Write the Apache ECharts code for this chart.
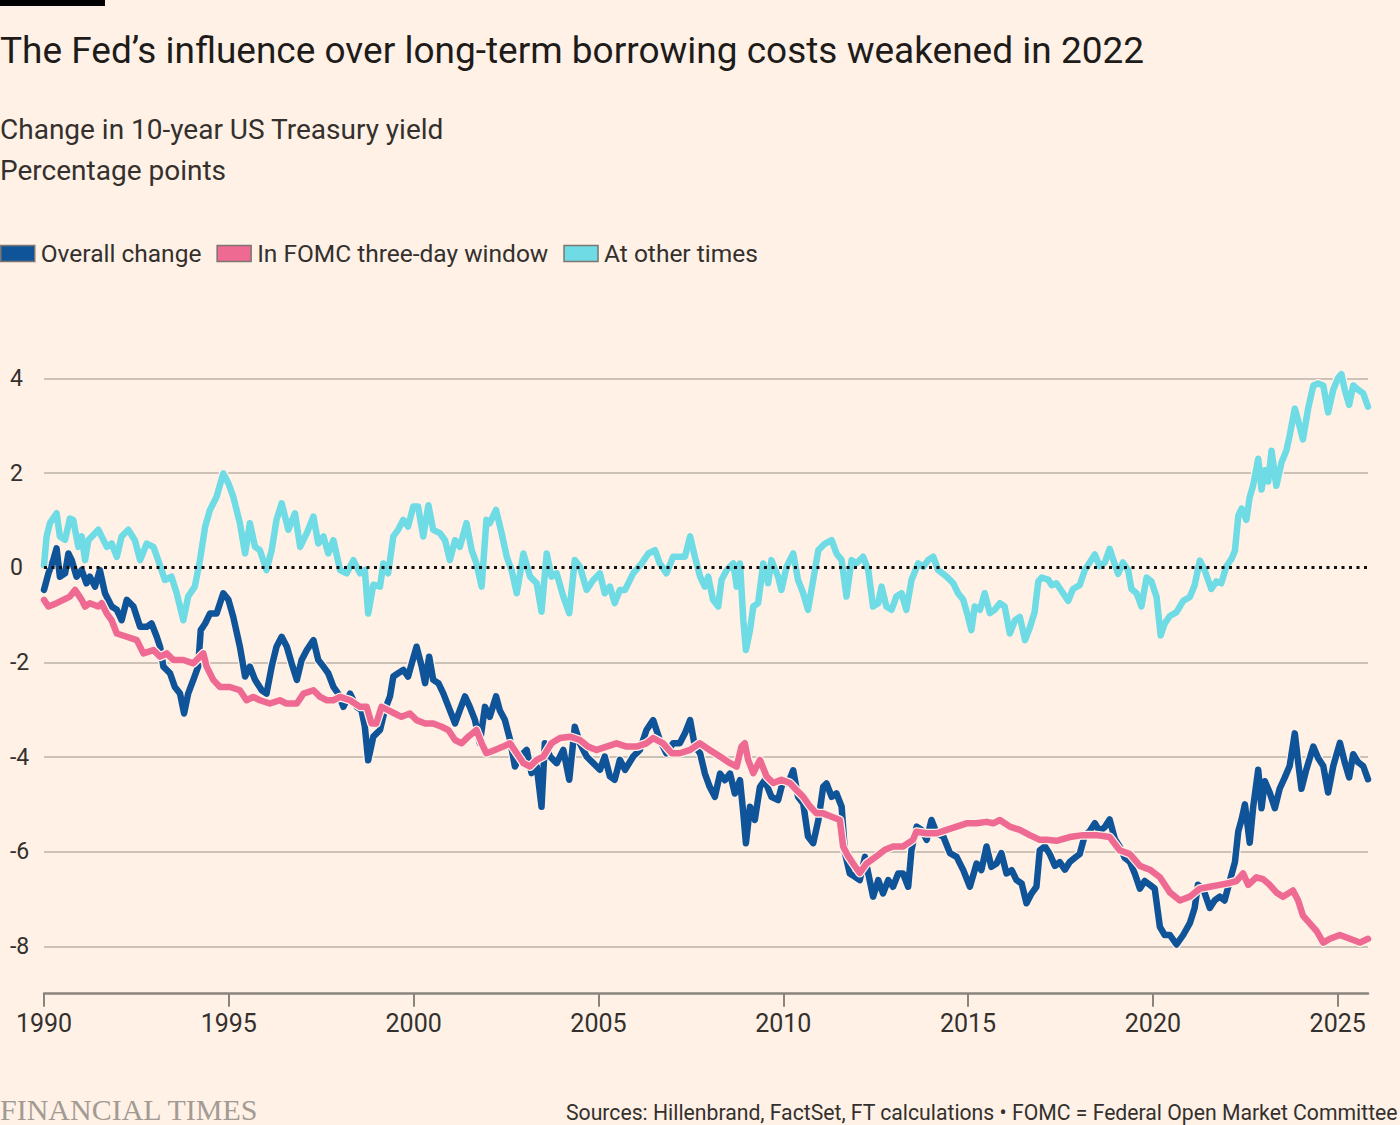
<!DOCTYPE html>
<html>
<head>
<meta charset="utf-8">
<script src="https://cdn.jsdelivr.net/npm/echarts@6/dist/echarts.min.js"></script>
<style>
  html, body { margin: 0; padding: 0; background: #fff1e5; }
  #chart { width: 1400px; height: 1125px; }
</style>
</head>
<body>
<div id="chart"></div>
<script>
// values: [year, percentage points]
var overallChange = [
  [1990.00,-0.47],[1990.12,-0.12],[1990.25,0.16],[1990.34,0.41],[1990.43,-0.19],[1990.57,-0.12],[1990.66,0.30],[1990.75,0.16],
  [1990.88,-0.19],[1991.02,-0.05],[1991.15,-0.33],[1991.24,-0.19],[1991.38,-0.40],[1991.51,-0.05],[1991.65,-0.54],[1991.83,-0.82],
  [1991.97,-0.89],[1992.10,-1.11],[1992.24,-0.68],[1992.42,-0.82],[1992.60,-1.25],[1992.78,-1.25],[1992.91,-1.18],[1993.05,-1.46],
  [1993.14,-1.67],[1993.23,-2.09],[1993.41,-2.23],[1993.54,-2.52],[1993.68,-2.66],[1993.79,-3.08],[1993.90,-2.66],[1994.04,-2.37],
  [1994.17,-2.09],[1994.24,-1.32],[1994.36,-1.18],[1994.49,-0.97],[1994.67,-0.97],[1994.85,-0.54],[1994.99,-0.68],[1995.12,-1.04],
  [1995.30,-1.67],[1995.44,-2.30],[1995.57,-2.09],[1995.71,-2.37],[1995.89,-2.59],[1996.02,-2.66],[1996.16,-2.09],[1996.29,-1.67],
  [1996.43,-1.46],[1996.57,-1.67],[1996.70,-2.02],[1996.84,-2.37],[1996.97,-1.95],[1997.11,-1.74],[1997.29,-1.53],[1997.42,-1.95],
  [1997.56,-2.09],[1997.69,-2.23],[1997.83,-2.52],[1997.96,-2.66],[1998.10,-2.94],[1998.28,-2.66],[1998.46,-2.94],[1998.59,-3.01],
  [1998.68,-3.36],[1998.77,-4.07],[1998.91,-3.57],[1999.09,-3.43],[1999.22,-3.01],[1999.36,-2.72],[1999.45,-2.30],[1999.58,-2.23],
  [1999.72,-2.16],[1999.85,-2.30],[1999.95,-2.02],[2000.08,-1.67],[2000.22,-2.09],[2000.31,-2.44],[2000.42,-1.88],[2000.53,-2.37],
  [2000.67,-2.44],[2000.80,-2.65],[2000.98,-3.01],[2001.12,-3.29],[2001.25,-3.01],[2001.39,-2.72],[2001.52,-2.94],[2001.66,-3.22],
  [2001.79,-3.71],[2001.93,-2.94],[2002.06,-3.15],[2002.23,-2.72],[2002.33,-3.01],[2002.47,-3.22],[2002.61,-3.64],[2002.74,-4.20],
  [2002.88,-3.99],[2003.06,-3.85],[2003.19,-4.34],[2003.33,-4.20],[2003.46,-5.05],[2003.55,-3.71],[2003.69,-3.99],[2003.87,-4.13],
  [2004.05,-3.85],[2004.21,-4.48],[2004.36,-3.36],[2004.50,-3.71],[2004.68,-3.99],[2004.86,-4.13],[2005.04,-4.27],[2005.17,-3.99],
  [2005.31,-4.41],[2005.44,-4.48],[2005.58,-4.06],[2005.72,-4.27],[2005.94,-3.99],[2006.12,-3.85],[2006.30,-3.43],[2006.48,-3.22],
  [2006.66,-3.64],[2006.84,-3.92],[2007.02,-3.71],[2007.20,-3.71],[2007.34,-3.50],[2007.48,-3.22],[2007.61,-3.78],[2007.75,-3.92],
  [2007.88,-4.35],[2008.01,-4.63],[2008.15,-4.84],[2008.29,-4.35],[2008.42,-4.49],[2008.56,-4.35],[2008.69,-4.77],[2008.83,-4.49],
  [2008.92,-5.19],[2008.99,-5.82],[2009.10,-5.05],[2009.23,-5.33],[2009.37,-4.63],[2009.50,-4.49],[2009.68,-4.84],[2009.86,-4.91],
  [2010.00,-4.49],[2010.13,-4.56],[2010.27,-4.28],[2010.40,-4.84],[2010.54,-4.98],[2010.67,-5.68],[2010.81,-5.82],[2010.95,-5.33],
  [2011.08,-4.63],[2011.17,-4.56],[2011.31,-4.84],[2011.44,-4.77],[2011.58,-5.05],[2011.67,-6.03],[2011.80,-6.46],[2011.94,-6.53],
  [2012.07,-6.60],[2012.21,-6.11],[2012.30,-6.46],[2012.43,-6.95],[2012.57,-6.60],[2012.70,-6.88],[2012.84,-6.60],[2012.97,-6.74],
  [2013.11,-6.46],[2013.24,-6.46],[2013.38,-6.74],[2013.47,-5.96],[2013.61,-5.47],[2013.74,-5.54],[2013.88,-5.75],[2014.01,-5.33],
  [2014.15,-5.61],[2014.33,-5.68],[2014.51,-6.03],[2014.69,-6.11],[2014.87,-6.39],[2015.05,-6.74],[2015.23,-6.25],[2015.36,-6.39],
  [2015.50,-5.89],[2015.63,-6.32],[2015.77,-6.25],[2015.90,-6.03],[2016.04,-6.46],[2016.18,-6.39],[2016.31,-6.60],[2016.45,-6.67],
  [2016.58,-7.09],[2016.72,-6.88],[2016.85,-6.74],[2016.94,-5.97],[2017.08,-5.89],[2017.21,-6.05],[2017.35,-6.30],[2017.48,-6.22],
  [2017.62,-6.38],[2017.75,-6.22],[2017.89,-6.13],[2018.02,-6.05],[2018.16,-5.65],[2018.29,-5.57],[2018.43,-5.40],[2018.56,-5.57],
  [2018.70,-5.48],[2018.83,-5.32],[2018.97,-5.73],[2019.10,-5.89],[2019.24,-6.13],[2019.38,-6.22],[2019.51,-6.46],[2019.65,-6.78],
  [2019.78,-6.62],[2019.92,-6.70],[2020.05,-6.78],[2020.19,-7.59],[2020.32,-7.76],[2020.46,-7.76],[2020.64,-7.96],[2020.82,-7.76],
  [2021.00,-7.51],[2021.13,-7.19],[2021.22,-6.70],[2021.36,-6.78],[2021.54,-7.19],[2021.67,-7.03],[2021.81,-6.95],[2021.94,-7.03],
  [2022.08,-6.62],[2022.22,-6.22],[2022.31,-5.57],[2022.40,-5.32],[2022.49,-5.00],[2022.62,-5.81],[2022.71,-5.08],[2022.85,-4.27],
  [2022.94,-5.08],[2023.03,-4.51],[2023.16,-4.75],[2023.30,-5.08],[2023.43,-4.67],[2023.57,-4.43],[2023.70,-4.19],[2023.84,-3.50],
  [2023.93,-4.11],[2024.02,-4.67],[2024.15,-4.27],[2024.34,-3.78],[2024.47,-4.02],[2024.61,-4.19],[2024.74,-4.75],[2024.88,-4.19],
  [2025.06,-3.70],[2025.19,-4.11],[2025.31,-4.43],[2025.42,-3.94],[2025.55,-4.11],[2025.69,-4.19],[2025.82,-4.47]
];

var fomcWindow = [
  [1990.00,-0.68],[1990.12,-0.82],[1990.34,-0.75],[1990.52,-0.68],[1990.70,-0.61],[1990.84,-0.47],[1991.02,-0.68],[1991.11,-0.82],
  [1991.24,-0.75],[1991.47,-0.82],[1991.56,-0.75],[1991.70,-0.97],[1991.83,-1.11],[1991.97,-1.39],[1992.24,-1.46],[1992.51,-1.53],
  [1992.69,-1.81],[1992.96,-1.74],[1993.14,-1.88],[1993.32,-1.81],[1993.50,-1.95],[1993.77,-1.95],[1994.04,-2.02],[1994.22,-1.88],
  [1994.31,-1.81],[1994.40,-2.09],[1994.58,-2.37],[1994.76,-2.52],[1995.03,-2.52],[1995.30,-2.59],[1995.48,-2.80],[1995.66,-2.73],
  [1995.84,-2.80],[1996.11,-2.87],[1996.38,-2.80],[1996.56,-2.87],[1996.84,-2.87],[1997.02,-2.66],[1997.29,-2.59],[1997.47,-2.73],
  [1997.65,-2.80],[1997.83,-2.80],[1998.01,-2.73],[1998.28,-2.80],[1998.55,-2.94],[1998.73,-2.94],[1998.86,-3.29],[1998.99,-3.29],
  [1999.13,-2.94],[1999.31,-3.01],[1999.49,-3.08],[1999.67,-3.15],[1999.90,-3.08],[2000.08,-3.22],[2000.31,-3.29],[2000.53,-3.29],
  [2000.76,-3.36],[2000.94,-3.43],[2001.12,-3.64],[2001.30,-3.71],[2001.48,-3.57],[2001.70,-3.43],[2001.84,-3.71],[2001.97,-3.92],
  [2002.20,-3.85],[2002.42,-3.78],[2002.61,-3.71],[2002.79,-3.92],[2002.97,-4.13],[2003.15,-4.20],[2003.33,-4.06],[2003.51,-3.99],
  [2003.73,-3.71],[2003.96,-3.60],[2004.23,-3.57],[2004.50,-3.64],[2004.72,-3.78],[2004.95,-3.85],[2005.22,-3.78],[2005.49,-3.71],
  [2005.76,-3.78],[2006.03,-3.78],[2006.30,-3.71],[2006.48,-3.60],[2006.75,-3.71],[2006.98,-3.92],[2007.20,-3.92],[2007.48,-3.85],
  [2007.74,-3.71],[2008.01,-3.85],[2008.29,-3.99],[2008.56,-4.13],[2008.74,-4.20],[2008.87,-3.78],[2008.96,-3.71],[2009.05,-4.06],
  [2009.19,-4.34],[2009.37,-4.06],[2009.55,-4.41],[2009.73,-4.55],[2009.95,-4.48],[2010.18,-4.55],[2010.36,-4.70],[2010.54,-4.84],
  [2010.72,-5.04],[2010.90,-5.19],[2011.08,-5.19],[2011.31,-5.26],[2011.53,-5.33],[2011.62,-5.89],[2011.76,-6.10],[2011.89,-6.25],
  [2012.07,-6.45],[2012.25,-6.25],[2012.52,-6.10],[2012.75,-5.96],[2012.97,-5.89],[2013.24,-5.89],[2013.51,-5.75],[2013.60,-5.58],
  [2013.88,-5.61],[2014.15,-5.61],[2014.42,-5.54],[2014.69,-5.47],[2014.96,-5.40],[2015.23,-5.40],[2015.50,-5.37],[2015.68,-5.40],
  [2015.86,-5.33],[2016.13,-5.47],[2016.40,-5.54],[2016.67,-5.65],[2016.94,-5.75],[2017.17,-5.75],[2017.39,-5.77],[2017.75,-5.69],
  [2018.11,-5.65],[2018.47,-5.65],[2018.83,-5.69],[2019.10,-5.97],[2019.38,-6.05],[2019.65,-6.30],[2019.92,-6.38],[2020.19,-6.54],
  [2020.46,-6.86],[2020.73,-7.03],[2021.00,-6.95],[2021.27,-6.78],[2021.54,-6.74],[2021.81,-6.70],[2022.08,-6.66],[2022.26,-6.62],
  [2022.44,-6.46],[2022.58,-6.70],[2022.80,-6.54],[2022.98,-6.58],[2023.16,-6.70],[2023.34,-6.86],[2023.52,-6.95],[2023.79,-6.82],
  [2023.93,-7.03],[2024.06,-7.35],[2024.24,-7.51],[2024.43,-7.68],[2024.61,-7.92],[2024.79,-7.84],[2025.06,-7.76],[2025.33,-7.84],
  [2025.60,-7.92],[2025.82,-7.84]
];

var otherTimes = [
  [1990.00,0.05],[1990.07,0.66],[1990.16,0.94],[1990.34,1.15],[1990.43,0.66],[1990.57,0.59],[1990.70,1.04],[1990.79,1.01],
  [1990.93,0.44],[1991.02,0.66],[1991.11,0.16],[1991.20,0.58],[1991.47,0.80],[1991.70,0.44],[1991.83,0.51],[1991.97,0.23],
  [1992.10,0.66],[1992.28,0.80],[1992.46,0.58],[1992.60,0.16],[1992.78,0.51],[1992.96,0.44],[1993.09,0.16],[1993.27,-0.26],
  [1993.45,-0.19],[1993.59,-0.54],[1993.77,-1.11],[1993.90,-0.61],[1994.08,-0.40],[1994.22,0.16],[1994.36,0.87],[1994.49,1.22],
  [1994.67,1.50],[1994.85,1.99],[1994.99,1.78],[1995.12,1.50],[1995.30,0.94],[1995.44,0.30],[1995.57,0.94],[1995.71,0.44],
  [1995.84,0.37],[1996.02,-0.05],[1996.16,0.37],[1996.29,1.01],[1996.43,1.36],[1996.61,0.80],[1996.79,1.15],[1996.93,0.44],
  [1997.11,0.73],[1997.29,1.08],[1997.42,0.51],[1997.56,0.66],[1997.69,0.30],[1997.83,0.58],[1998.01,-0.05],[1998.19,-0.12],
  [1998.37,0.16],[1998.55,-0.12],[1998.68,-0.05],[1998.77,-0.97],[1998.91,-0.36],[1999.09,-0.40],[1999.18,0.09],[1999.31,-0.12],
  [1999.45,0.66],[1999.58,0.80],[1999.72,1.01],[1999.85,0.87],[1999.99,1.29],[2000.12,1.29],[2000.26,0.66],[2000.40,1.32],
  [2000.53,0.80],[2000.71,0.73],[2000.85,0.58],[2000.98,0.16],[2001.12,0.58],[2001.25,0.44],[2001.43,0.94],[2001.57,0.37],
  [2001.70,0.09],[2001.84,-0.40],[2001.97,1.01],[2002.06,0.94],[2002.23,1.22],[2002.38,0.73],[2002.52,0.23],[2002.65,-0.05],
  [2002.79,-0.54],[2002.97,0.30],[2003.15,-0.19],[2003.33,-0.33],[2003.46,-0.93],[2003.60,0.30],[2003.73,-0.19],[2003.87,-0.12],
  [2004.05,-0.61],[2004.21,-0.96],[2004.36,0.16],[2004.50,0.02],[2004.68,-0.47],[2004.86,-0.26],[2005.04,-0.12],[2005.17,-0.54],
  [2005.31,-0.40],[2005.44,-0.75],[2005.58,-0.47],[2005.72,-0.47],[2005.94,-0.12],[2006.17,0.09],[2006.35,0.30],[2006.53,0.37],
  [2006.66,0.09],[2006.84,-0.12],[2007.02,0.23],[2007.20,0.23],[2007.34,0.23],[2007.48,0.66],[2007.61,0.23],[2007.75,-0.19],
  [2007.88,-0.40],[2007.97,-0.19],[2008.10,-0.68],[2008.24,-0.82],[2008.33,-0.26],[2008.47,-0.05],[2008.65,0.09],[2008.74,-0.40],
  [2008.83,0.09],[2008.92,-1.11],[2008.99,-1.74],[2009.10,-1.32],[2009.19,-0.82],[2009.32,-0.75],[2009.46,0.09],[2009.59,-0.33],
  [2009.68,0.16],[2009.86,-0.19],[2009.95,-0.47],[2010.09,0.02],[2010.27,0.30],[2010.40,-0.26],[2010.54,-0.54],[2010.67,-0.89],
  [2010.81,-0.26],[2010.95,0.37],[2011.13,0.51],[2011.31,0.58],[2011.44,0.30],[2011.58,0.16],[2011.71,-0.61],[2011.85,0.16],
  [2011.98,0.09],[2012.16,0.23],[2012.30,-0.05],[2012.43,-0.82],[2012.57,-0.75],[2012.66,-0.40],[2012.79,-0.82],[2012.93,-0.89],
  [2013.06,-0.61],[2013.20,-0.54],[2013.33,-0.89],[2013.47,-0.26],[2013.65,0.09],[2013.79,0.02],[2013.92,0.16],[2014.06,0.23],
  [2014.19,-0.05],[2014.42,-0.19],[2014.60,-0.33],[2014.73,-0.54],[2014.87,-0.68],[2015.00,-1.04],[2015.09,-1.32],[2015.18,-0.82],
  [2015.32,-0.89],[2015.45,-0.54],[2015.59,-0.96],[2015.72,-0.89],[2015.86,-0.75],[2015.99,-0.82],[2016.13,-1.39],[2016.27,-1.11],
  [2016.40,-1.04],[2016.54,-1.53],[2016.67,-1.27],[2016.80,-0.94],[2016.90,-0.29],[2016.99,-0.21],[2017.17,-0.25],[2017.26,-0.37],
  [2017.39,-0.33],[2017.57,-0.54],[2017.71,-0.70],[2017.84,-0.45],[2018.02,-0.37],[2018.16,-0.05],[2018.29,0.11],[2018.43,0.28],
  [2018.56,0.03],[2018.70,0.11],[2018.83,0.40],[2018.97,0.07],[2019.06,-0.13],[2019.19,0.11],[2019.33,-0.05],[2019.42,-0.45],
  [2019.56,-0.54],[2019.69,-0.82],[2019.83,-0.21],[2019.96,-0.29],[2020.10,-0.62],[2020.21,-1.43],[2020.32,-1.18],[2020.46,-1.02],
  [2020.64,-0.94],[2020.82,-0.70],[2021.00,-0.62],[2021.13,-0.37],[2021.27,0.15],[2021.40,-0.05],[2021.58,-0.45],[2021.72,-0.29],
  [2021.85,-0.33],[2021.99,0.03],[2022.13,0.19],[2022.22,0.36],[2022.31,1.09],[2022.40,1.25],[2022.53,1.01],[2022.62,1.49],
  [2022.71,1.73],[2022.85,2.30],[2022.94,1.65],[2023.03,2.06],[2023.12,1.82],[2023.21,2.47],[2023.34,1.73],[2023.48,2.22],
  [2023.61,2.47],[2023.70,2.79],[2023.84,3.36],[2023.93,3.11],[2024.06,2.71],[2024.20,3.36],[2024.34,3.85],[2024.47,3.89],
  [2024.61,3.85],[2024.74,3.28],[2024.88,3.76],[2025.01,4.01],[2025.10,4.09],[2025.19,3.76],[2025.31,3.44],[2025.42,3.85],
  [2025.55,3.76],[2025.69,3.68],[2025.82,3.40]
];

var seriesNames = ['Overall change', 'In FOMC three-day window', 'At other times'];
var yearTicks = [1990, 1995, 2000, 2005, 2010, 2015, 2020, 2025];
var yTicks = [-8, -6, -4, -2, 0, 2, 4];
var gridValues = [-8, -6, -4, -2, 2, 4];

var ink = '#33302e';
var font = 'Roboto, "Noto Sans", sans-serif';
var colors = ['#0f5499', '#ee6a93', '#6fdbe5'];
var paper = '#fff1e5';

var chart = echarts.init(document.getElementById('chart'), null, { renderer: 'svg' });

// a thin paper-coloured halo under each line, then the line itself
function haloSeries(data) {
  return {
    type: 'line', data: data, showSymbol: false, symbol: 'none', silent: true,
    lineStyle: { width: 9, color: paper, cap: 'round', join: 'round' },
    emphasis: { disabled: true }, tooltip: { show: false }
  };
}
function lineSeries(name, data, color) {
  return {
    name: name, type: 'line', data: data, showSymbol: false, symbol: 'none',
    color: color,
    lineStyle: { width: 6.5, color: color, cap: 'round', join: 'round' },
    emphasis: { disabled: true }
  };
}

var seriesList = [
  haloSeries(overallChange),
  lineSeries(seriesNames[0], overallChange, colors[0]),
  haloSeries(fomcWindow),
  lineSeries(seriesNames[1], fomcWindow, colors[1]),
  haloSeries(otherTimes),
  lineSeries(seriesNames[2], otherTimes, colors[2])
];
// each halo sits just below its own line
seriesList.forEach(function(s, i) { s.z = 10 + i; });

// gridlines under the lines
seriesList[1].markLine = {
  silent: true,
  symbol: 'none',
  z: 2,
  label: { show: false },
  data: gridValues.map(function(v) {
    return { yAxis: v, lineStyle: { color: '#cdc2b8', width: 2, type: 'solid' } };
  })
};
// dotted zero line drawn over the lines
seriesList[5].markLine = {
  silent: true,
  symbol: 'none',
  z: 30,
  label: { show: false },
  data: [{ yAxis: 0, lineStyle: { color: '#111', width: 3, type: [3, 4.5] } }]
};

chart.setOption({
  animation: false,
  backgroundColor: paper,
  textStyle: { fontFamily: font },
  graphic: [{
    type: 'rect',
    shape: { x: 0, y: 0, width: 105, height: 6 },
    style: { fill: '#000' }
  }],
  title: [{
    text: 'The Fed’s influence over long-term borrowing costs weakened in 2022',
    left: 0, top: 29, padding: 0,
    textStyle: { fontFamily: font, fontSize: 37, fontWeight: 'normal', color: '#1e1c1a', lineHeight: 42 }
  }, {
    text: 'Change in 10-year US Treasury yield\nPercentage points',
    left: 0, top: 109, padding: 0,
    textStyle: { fontFamily: font, fontSize: 28, fontWeight: 'normal', color: ink, lineHeight: 41 }
  }, {
    text: 'FINANCIAL TIMES',
    left: 0, top: 1093, padding: 0,
    textStyle: { fontFamily: '"Liberation Serif", serif', fontSize: 30, fontWeight: 'normal', color: '#a29b94', lineHeight: 32 }
  }, {
    text: 'Sources: Hillenbrand, FactSet, FT calculations • FOMC = Federal Open Market Committee',
    right: 2, top: 1100, padding: 0,
    textStyle: { fontFamily: font, fontSize: 21.2, fontWeight: 'normal', color: ink, lineHeight: 25 }
  }],
  legend: {
    data: seriesNames,
    left: 0, top: 241, padding: 0,
    icon: 'rect',
    itemWidth: 34, itemHeight: 16, itemGap: 15,
    itemStyle: { borderColor: '#7d7670', borderWidth: 1.5 },
    textStyle: { fontFamily: font, fontSize: 24.5, color: ink, padding: [0, 0, 0, 1] },
    selectedMode: false
  },
  grid: { left: 44, right: 32, top: 359.4, bottom: 131.3, containLabel: false },
  xAxis: {
    type: 'value',
    min: 1990, max: 2025.82, interval: 5,
    splitLine: { show: false },
    axisLine: { show: true, onZero: false, lineStyle: { color: '#8a847e', width: 2.5 } },
    axisTick: { show: true, length: 13, customValues: yearTicks, lineStyle: { color: '#8a847e', width: 2 } },
    axisLabel: {
      customValues: yearTicks, margin: 17,
      fontFamily: font, fontSize: 25, color: ink,
      formatter: function(v) { return String(v); }
    }
  },
  yAxis: {
    type: 'value',
    min: -9, max: 4.4,
    splitLine: { show: false },
    axisLine: { show: false },
    axisTick: { show: false },
    axisLabel: {
      customValues: yTicks, margin: 34, align: 'left',
      fontFamily: font, fontSize: 23, color: ink
    }
  },
  series: seriesList
});
</script>
</body>
</html>
